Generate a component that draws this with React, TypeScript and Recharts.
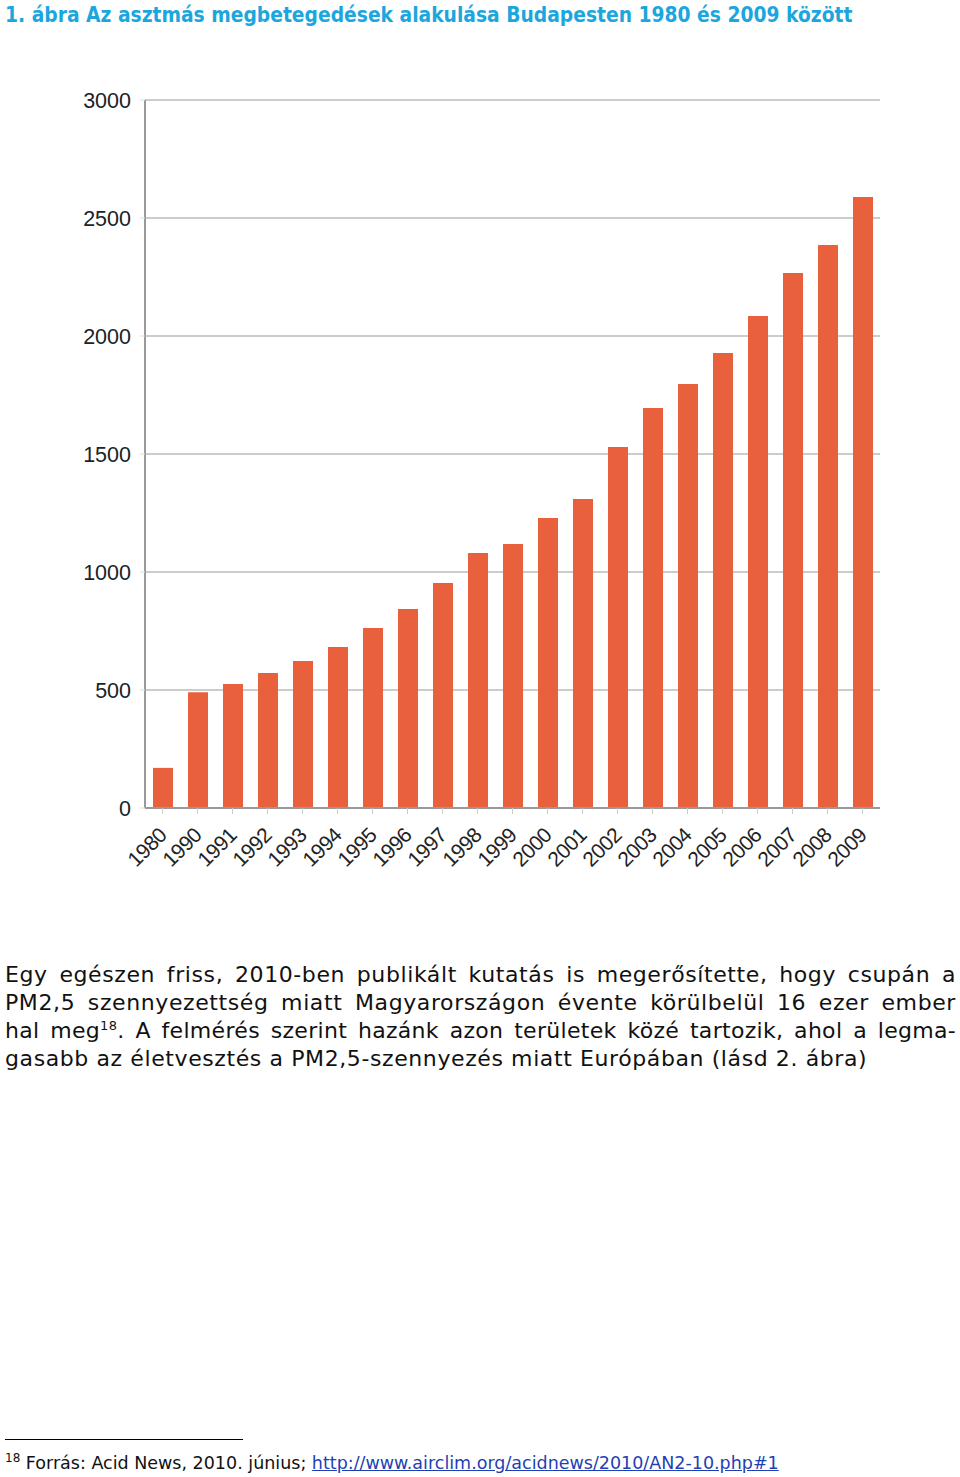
import React from "react";
import {
  BarChart,
  Bar,
  XAxis,
  YAxis,
  CartesianGrid,
} from "recharts";

const years = [
  "1980", "1990", "1991", "1992", "1993", "1994", "1995", "1996", "1997", "1998", "1999",
  "2000", "2001", "2002", "2003", "2004", "2005", "2006", "2007", "2008", "2009",
];
const cases = [
  170, 490, 525, 572, 623, 682, 763, 843, 953, 1080, 1119,
  1229, 1309, 1530, 1695, 1797, 1928, 2085, 2267, 2386, 2589,
];
const yTicks = [0, 500, 1000, 1500, 2000, 2500, 3000];

const data = years.map((y, i) => ({ year: y, value: cases[i] }));

const BAR_COLOR = "#E8613C";
const AXIS_FONT = "'Liberation Sans', Arial, sans-serif";
const TEXT_FONT = "'DejaVu Sans', Verdana, sans-serif";
const TITLE_FONT = "'DejaVu Sans Condensed', 'DejaVu Sans', Tahoma, sans-serif";

// rotated year labels
const YearTick = (props: any) => {
  const { x, y, payload } = props;
  return (
    <g transform={`translate(${x - 3},${y + 12})`}>
      <text
        transform="rotate(-45)"
        textAnchor="end"
        dy={12}
        fontSize={21}
        fontFamily={AXIS_FONT}
        fill="#222"
        style={{ letterSpacing: "-0.5px" }}
      >
        {payload.value}
      </text>
    </g>
  );
};

const lineStyle: React.CSSProperties = {
  textAlign: "justify",
  textAlignLast: "justify",
  whiteSpace: "nowrap",
  height: 28,
};

export default function App() {
  return (
    <div
      style={{
        position: "absolute",
        top: 0,
        left: 0,
        width: 960,
        height: 1477,
        background: "#fff",
        overflow: "hidden",
      }}
    >
      <div
        style={{
          position: "absolute",
          top: 3,
          left: 5,
          fontFamily: TITLE_FONT,
          fontWeight: "bold",
          fontSize: 20.8,
          color: "#1BA6DE",
          whiteSpace: "nowrap",
        }}
      >
        1. ábra Az asztmás megbetegedések alakulása Budapesten 1980 és 2009 között
      </div>

      <div style={{ position: "absolute", top: 0, left: 0 }}>
        <BarChart
          width={960}
          height={900}
          data={data}
          margin={{ top: 100, right: 80, left: 85, bottom: 22 }}
          barSize={20}
        >
          <CartesianGrid vertical={false} stroke="#bbb" strokeWidth={1.5} />
          <XAxis
            dataKey="year"
            height={70}
            interval={0}
            tick={<YearTick />}
            axisLine={{ stroke: "#999", strokeWidth: 2 }}
            tickLine={{ stroke: "#ccc" }}
            tickSize={6}
          />
          <XAxis
            xAxisId="top"
            dataKey="year"
            orientation="top"
            height={0}
            tick={false}
            tickLine={false}
            axisLine={{ stroke: "#888", strokeWidth: 2 }}
          />
          <YAxis
            domain={[0, 3000]}
            ticks={yTicks}
            width={60}
            interval={0}
            axisLine={{ stroke: "#999", strokeWidth: 2 }}
            tickLine={{ stroke: "#ddd" }}
            tickSize={5}
            tick={{ fontSize: 21.5, fontFamily: AXIS_FONT, fill: "#222", dx: -7 }}
          />
          <YAxis
            yAxisId="right"
            orientation="right"
            domain={[0, 3000]}
            width={0}
            tick={false}
            tickLine={false}
            axisLine={{ stroke: "#888", strokeWidth: 2 }}
          />
          <Bar dataKey="value" fill={BAR_COLOR} isAnimationActive={false} />
        </BarChart>
      </div>

      <div
        style={{
          position: "absolute",
          top: 961,
          left: 5,
          width: 951,
          fontFamily: TEXT_FONT,
          fontSize: 22,
          lineHeight: "28px",
          letterSpacing: "0.6px",
          color: "#111",
        }}
      >
        <div style={lineStyle}>
          Egy egészen friss, 2010-ben publikált kutatás is megerősítette, hogy csupán a
        </div>
        <div style={lineStyle}>
          PM2,5 szennyezettség miatt Magyarországon évente körülbelül 16 ezer ember
        </div>
        <div style={{ ...lineStyle, letterSpacing: "0.3px" }}>
          hal meg<sup style={{ fontSize: 13, lineHeight: 0 }}>18</sup>. A felmérés szerint hazánk azon területek közé tartozik, ahol a legma-
        </div>
        <div style={{ whiteSpace: "nowrap", height: 28 }}>
          gasabb az életvesztés a PM2,5-szennyezés miatt Európában (lásd 2. ábra)
        </div>
      </div>

      <div
        style={{
          position: "absolute",
          top: 1439,
          left: 5,
          width: 238,
          height: 0,
          borderTop: "1.5px solid #000",
        }}
      />
      <div
        style={{
          position: "absolute",
          top: 1451,
          left: 5,
          fontFamily: TEXT_FONT,
          fontSize: 17.5,
          lineHeight: "24px",
          color: "#111",
          whiteSpace: "nowrap",
        }}
      >
        <sup style={{ fontSize: 12, lineHeight: 0 }}>18</sup> Forrás: Acid News, 2010. június;{" "}
        <a href="#" style={{ color: "#1F3FB4" }}>
          http://www.airclim.org/acidnews/2010/AN2-10.php#1
        </a>
      </div>
    </div>
  );
}
